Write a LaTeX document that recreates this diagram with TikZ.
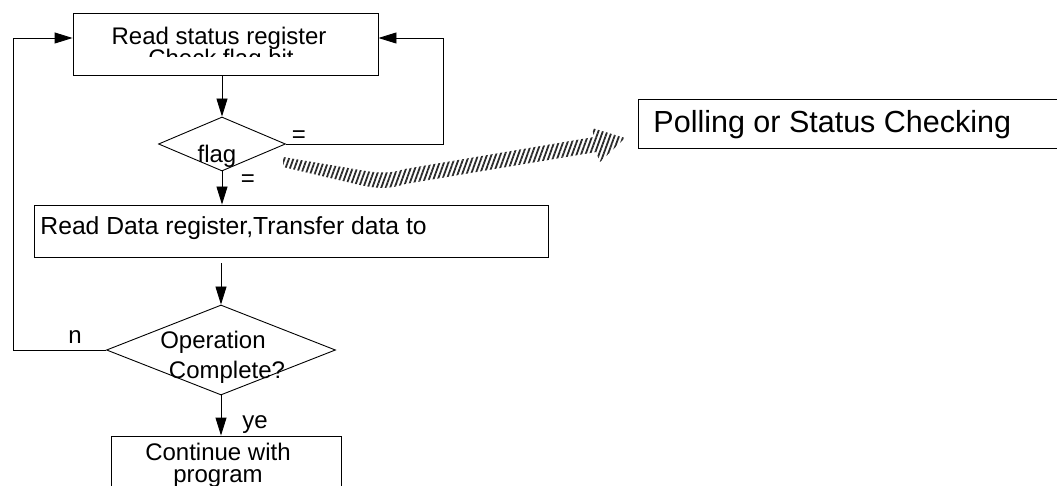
\documentclass[tikz,border=0pt]{standalone}
\usepackage{fontspec}
\setmainfont{Liberation Sans}
\usepackage{xcolor}
\usepackage{tikz}
\usetikzlibrary{shapes.geometric, arrows.meta, positioning, patterns.meta}
\definecolor{hatchgray}{HTML}{2A2A2A}

\begin{document}
\begin{tikzpicture}[x=1pt, y=-1pt, line width=0.9pt,
    txt/.style={inner sep=0pt, font=\fontsize{24}{22}\selectfont},
    box/.style={draw, rectangle, inner sep=0pt},
    decision/.style={draw, diamond, inner sep=0pt, aspect=2},
    arr/.style={-{Triangle[length=18pt, width=11pt]}}]
    \clip (0,0) rectangle (1057,486);

    % boxes and decisions
    \node[box, minimum width=305pt, minimum height=62pt] (read) at (225.5,44) {};
    \node[txt, anchor=base] (readtxt) at (219,45) {Read status register};
    \begin{scope}
      \clip (read.north west) rectangle (378,57);
      \node[txt, anchor=base] (checktxt) at (221,67) {Check flag bit};
    \end{scope}

    \node[decision, minimum width=127pt, minimum height=54pt] (flag) at (222,144) {};
    \node[txt, anchor=base] (flagtxt) at (217,163) {flag};

    \node[box, minimum width=514pt, minimum height=52pt] (data) at (291,231) {};
    \node[txt, anchor=base west, font=\fontsize{24.7}{22}\selectfont] (datatxt) at (40,235)
      {Read Data register,Transfer data to};

    \node[decision, minimum width=229pt, minimum height=90pt] (op) at (221,350) {};
    \node[txt, anchor=base] (optxt) at (213,348) {Operation};
    \node[txt, anchor=base] (comptxt) at (227,378) {Complete?};

    \node[box, minimum width=230pt, minimum height=80pt] (cont) at (226,476) {};
    \node[txt, anchor=base, align=center] (conttxt) at (218,482) {Continue with\\program};

    \node[box, minimum width=460pt, minimum height=49pt] (poll) at (868,123.5) {};
    \node[txt, anchor=base west, font=\fontsize{30.5}{34}\selectfont] (polltxt) at (653,133)
      {Polling or Status Checking};

    % flow
    \coordinate (lft) at (13,38);
    \coordinate (rgt) at (443,38);
    \draw[arr] (flag.north |- read.south) -- (flag.north);
    \draw[arr] (flag.south) -- (flag.south |- data.north);
    \draw[arr, shorten <=6pt] (op.north |- data.south) -- (op.north);
    \draw[arr] (op.south) -- (op.south |- cont.north);
    \draw[arr] (op.west) -| (lft) -- ([yshift=6pt]read.west);
    \draw[arr] (flag.east) -| (rgt) -- ([yshift=6pt]read.east);

    % labels
    \node[txt] (eqa) at (299,137) {=};
    \node[txt] (eqb) at (248,181) {=};
    \node[txt, anchor=base] (nlbl) at (75,343) {n};
    \node[txt, anchor=base] (yelbl) at (255,428) {ye};

    % hatched pointer
    \path[pattern={Lines[angle=70, distance=4.2pt, line width=1.8pt]}, pattern color=hatchgray]
      (283,157) -- (360,170) .. controls (382,174) and (392,173) .. (405,169)
      -- (594,137) -- (592,128) -- (625,138) -- (600,162) -- (596,152)
      -- (405,184) .. controls (390,189) and (378,189) .. (360,185)
      -- (283,167) -- cycle;
  \end{tikzpicture}
\end{document}
